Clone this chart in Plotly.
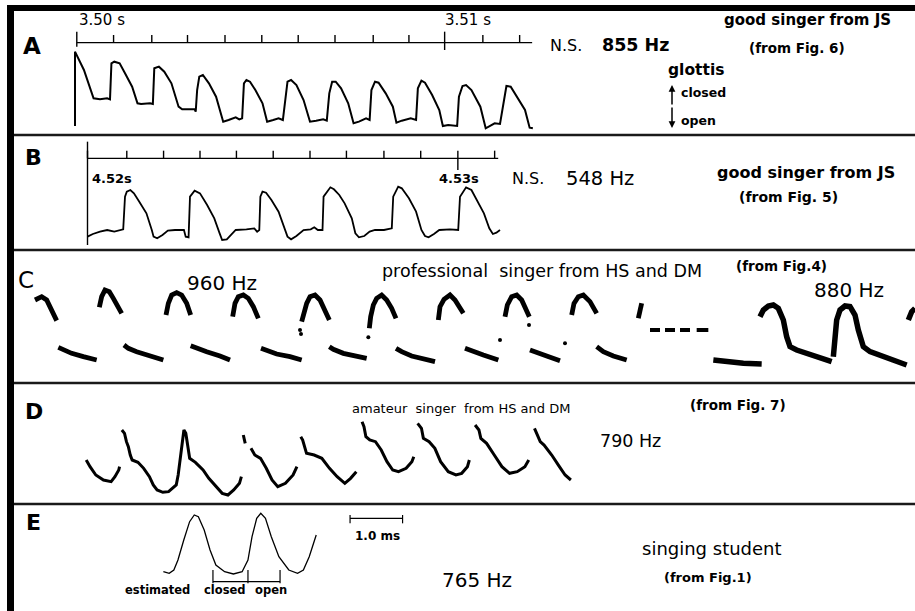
import plotly.graph_objects as go

W, H = 915, 611

# Panel A
A_wave_x = [210, 210, 235, 262, 280, 300, 308, 312, 320, 335, 350, 370, 385, 395, 420, 428, 432, 445, 460, 480,
            500, 510, 545, 548, 552, 558, 568, 585, 605, 625, 640, 660, 670, 678, 683, 690, 700, 715, 735, 748,
            765, 780, 792, 800, 805, 815, 830, 850, 868, 885, 905, 915, 922, 930, 940, 955, 975, 990, 1005, 1025,
            1035, 1040, 1050, 1060, 1080, 1100, 1110, 1125, 1150, 1165, 1170, 1180, 1190, 1210, 1230, 1240, 1255,
            1280, 1285, 1295, 1305, 1320, 1345, 1360, 1375, 1385, 1400, 1410, 1418, 1430, 1445, 1470, 1483, 1492]
A_wave_y = [378, 155, 210, 295, 298, 295, 298, 190, 185, 190, 220, 260, 310, 312, 310, 312, 205, 200, 215, 250,
            320, 328, 328, 335, 270, 230, 225, 250, 290, 365, 360, 352, 358, 355, 250, 240, 245, 270, 310, 365,
            360, 355, 360, 280, 245, 240, 255, 300, 365, 362, 358, 362, 280, 245, 245, 265, 310, 370, 365, 355,
            360, 270, 245, 248, 280, 320, 368, 362, 355, 360, 265, 242, 248, 285, 330, 378, 375,
            378, 290, 258, 255, 270, 320, 385, 375, 370, 372, 310, 258, 260, 285, 330, 383, 385]
A_axis_x = [215, 1490]
A_axis_y = 128
A_minor_x = [318, 425, 525, 630, 733, 835, 938, 1045, 1145, 1352, 1455]
A_major_x = [215, 1245]
A_major_labels = ["3.50 s", "3.51 s"]

# Panel B
B_wave = [(245, 320), (260, 312), (280, 305), (300, 300), (320, 305), (335, 300), (345, 298), (350, 200), (355, 185),
          (365, 180), (375, 190), (390, 215), (410, 250), (425, 300), (430, 320), (440, 325), (455, 315), (470, 302),
          (490, 300), (515, 300), (520, 320), (528, 322), (532, 200), (545, 182), (560, 190), (580, 225), (600, 265),
          (615, 310), (622, 330), (635, 328), (650, 310), (660, 300), (690, 298), (712, 295), (720, 305), (726, 300),
          (729, 200), (735, 185), (745, 188), (760, 210), (780, 245), (795, 290), (805, 320), (815, 328), (830, 318),
          (850, 300), (870, 298), (880, 292), (890, 300), (903, 300), (906, 200), (925, 172), (935, 178), (950, 195),
          (965, 220), (985, 265), (995, 310), (1005, 322), (1020, 318), (1035, 305), (1050, 300), (1075, 300),
          (1090, 298), (1097, 295), (1101, 200), (1115, 170), (1125, 175), (1145, 205), (1165, 245), (1180, 300),
          (1190, 318), (1200, 322), (1215, 312), (1230, 300), (1260, 298), (1283, 300), (1288, 200), (1305, 172),
          (1320, 180), (1335, 210), (1355, 250), (1370, 295), (1380, 312), (1390, 308), (1400, 300)]
B_axis_x = [245, 1395]
B_axis_y = 85
B_minor_x = [355, 458, 560, 662, 765, 868, 970, 1075, 1178, 1385]
B_major_x = [245, 1282]
B_major_labels = ["4.52s", "4.53s"]

# Panel C  (strokes separated by None)
C_x = [105, 125, 140, 150, 158, 165, 170, None, 175, 190, 215, 250, 290, None,
       298, 305, 315, 328, 340, 355, 365, None, 372, 385, 410, 440, 490, None,
       498, 505, 515, 530, 545, 560, 572, None, 572, 590, 620, 660, 690, None,
       698, 705, 715, 730, 745, 760, 775, None, 783, 800, 830, 870, 905, None,
       905, 912, 920, 930, 945, 960, 975, 988, None, 988, 1000, 1030, 1065, 1100, None,
       1108, 1112, 1120, 1130, 1145, 1160, 1175, 1188, None, 1188, 1205, 1235, 1270, 1305, None,
       1315, 1320, 1332, 1350, 1365, 1380, 1390, None, 1395, 1420, 1450, 1495, None,
       1515, 1522, 1535, 1550, 1565, 1580, 1588, None, 1590, 1610, 1640, 1680, None,
       1715, 1722, 1735, 1750, 1770, 1790, None, 1790, 1810, 1840, 1880, None,
       1925, 1915]
C_y = [150, 140, 150, 170, 190, 205, 212, None, 292, 300, 310, 320, 330, None,
       172, 140, 120, 125, 145, 170, 190, None, 285, 295, 305, 315, 330, None,
       195, 160, 135, 128, 135, 160, 195, None, 287, 295, 305, 318, 330, None,
       200, 160, 140, 135, 145, 170, 205, None, 295, 302, 312, 320, 330, None,
       215, 185, 160, 140, 135, 150, 180, 210, None, 290, 298, 310, 318, 325, None,
       235, 200, 165, 145, 135, 150, 175, 205, None, 295, 305, 318, 328, 335, None,
       210, 170, 148, 135, 150, 175, 190, None, 295, 305, 315, 330, None,
       200, 165, 140, 135, 150, 185, 200, None, 300, 308, 318, 332, None,
       195, 160, 140, 135, 155, 190, None, 290, 305, 318, 330, None,
       160, 205]
C_dots_x = [900, 903, 1500, 1587, 1695, 1105]
C_dots_y = [240, 252, 270, 225, 280, 262]
C_dash_x = [1950, 1980, None, 1995, 2025, None, 2040, 2070, None, 2090, 2125]
C_dash_y = [240, 240, None, 240, 240, None, 240, 240, None, 240, 240]
C2_x = [2140, 2180, 2230, 2285, None,
        2280, 2290, 2305, 2320, 2335, 2350, 2360, 2370, 2390, 2430, 2470, 2495, None,
        2500, 2505, 2510, 2520, 2535, 2550, 2565, 2575, 2590, 2610, 2650, 2690, 2720, None,
        2725, 2735, 2745]
C2_y = [330, 335, 340, 342, None,
        200, 180, 168, 165, 175, 210, 260, 290, 300, 312, 325, 335, None,
        320, 280, 210, 180, 168, 170, 195, 240, 290, 305, 318, 335, 345, None,
        210, 185, 175]

# Panel D
D_x = [225, 235, 250, 270, 290, 300, 310, 312, None,
       318, 325, 330, 335, 340, 345, 360, 375, 390, 400, 410, 425, 440, 450, 460, 465, 470, 475, 480,
       485, 490, 495, 510, 530, 545, 560, 580, 595, 610, 625, 630, None,
       635, 640, None,
       655, 665, 680, 695, 710, 725, 745, 765, 775, None,
       785, 790, 800, 820, 840, 860, 880, 900, 915, 930, None,
       945, 950, 955, 965, 980, 995, 1010, 1025, 1040, 1060, 1075, 1080, None,
       1090, 1100, 1105, 1120, 1135, 1150, 1170, 1190, 1205, 1220, 1225, None,
       1240, 1250, 1255, 1270, 1290, 1310, 1330, 1350, 1370, 1380, None,
       1395, 1405, 1410, 1420, 1440, 1460, 1475, 1490]
D_y = [255, 275, 300, 315, 320, 305, 285, 275, None,
       165, 175, 200, 215, 240, 255, 262, 280, 305, 330, 345, 352, 350, 340, 330, 300, 250, 200, 165,
       175, 215, 250, 262, 285, 310, 330, 355, 360, 345, 325, 305, None,
       180, 205, None,
       220, 240, 250, 280, 315, 335, 325, 300, 275, None,
       185, 195, 235, 240, 250, 280, 305, 325, 310, 290, None,
       140, 155, 185, 195, 200, 225, 260, 285, 290, 280, 260, 245, None,
       145, 160, 190, 200, 220, 260, 290, 300, 295, 275, 255, None,
       150, 165, 190, 205, 240, 275, 295, 290, 275, 255, None,
       160, 190, 200, 210, 240, 275, 300, 315]

# Panel E
E_x = [280, 290, 298, 305, 315, 325, 333, 340, 350, 360, 370, 385, 400, 415, 425, 432, 440, 447, 455, 465, 478,
       495, 510, 520, 530, 538, 542]
E_y = [245, 250, 240, 210, 150, 95, 75, 80, 120, 180, 225, 245, 252, 245, 210, 140, 85, 70, 85, 140, 200,
       240, 250, 240, 200, 160, 135]
E_phase_x = [365, 425, 480]
E_phase_y = 275
E_phase_labels = ["estimated", "closed", "open"]
E_bar_x = [600, 690]
E_bar_y = 85

# ---------------- figure ----------------
fig = go.Figure()

panels = {  # name: (ox, oy, sx, sy) digitizer grid -> pixel
    "A": (0, 0, 2.8, 3.0),
    "B": (0, 130, 2.8, 3.0),
    "C": (0, 250, 3.0, 3.0),
    "D": (0, 375, 2.61, 3.0),
    "E": (0, 490, 1.714, 3.0),
}
axis_id = {}
layout_axes = {}
for i, (name, (ox, oy, sx, sy)) in enumerate(panels.items(), start=2):
    axis_id[name] = (f"x{i}", f"y{i}")
    layout_axes[f"xaxis{i}"] = dict(domain=[0, 1], range=[-ox * sx, (W - ox) * sx], overlaying="x",
                                    anchor=f"y{i}", visible=False, fixedrange=True)
    layout_axes[f"yaxis{i}"] = dict(domain=[0, 1], range=[(H - oy) * sy, -oy * sy], overlaying="y",
                                    anchor=f"x{i}", visible=False, fixedrange=True)


def line(panel, xs, ys, width, color="black", mode="lines"):
    xa, ya = axis_id[panel]
    fig.add_trace(go.Scatter(x=xs, y=ys, mode=mode, xaxis=xa, yaxis=ya, hoverinfo="skip",
                             line=dict(color=color, width=width, shape="linear"),
                             marker=dict(color=color, size=width + 1), showlegend=False))


def ruler(panel, axis_x, axis_y, minor_x, minor_top, major_x, major_top, major_bot, vline=None):
    xs, ys = [axis_x[0], axis_x[1], None], [axis_y, axis_y, None]
    for t in minor_x:
        xs += [t, t, None]
        ys += [minor_top, axis_y, None]
    for t, b in zip(major_x, major_bot):
        xs += [t, t, None]
        ys += [major_top, b, None]
    if vline:
        xs += [axis_x[0], axis_x[0], None]
        ys += [vline[0], vline[1], None]
    line(panel, xs, ys, 1.4)


# A
line("A", A_wave_x, A_wave_y, 2.0)
ruler("A", A_axis_x, A_axis_y, A_minor_x, 105, A_major_x, 95, [140, 150])
# B
line("B", [p[0] for p in B_wave], [p[1] for p in B_wave], 1.8)
ruler("B", B_axis_x, B_axis_y, B_minor_x, 62, B_major_x, 62, [85, 120], vline=(35, 345))
# C
line("C", C_x, C_y, 4.8)
line("C", C_dots_x, C_dots_y, 3, mode="markers")
line("C", C_dash_x, C_dash_y, 4.0)
line("C", C2_x, C2_y, 5.5)
# D
line("D", D_x, D_y, 3.0)
# E
line("E", E_x, E_y, 1.3)
ex, ey = [E_phase_x[0], E_phase_x[-1], None], [E_phase_y, E_phase_y, None]
for t in E_phase_x:
    ex += [t, t, None]
    ey += [240, 280, None]
line("E", ex, ey, 1.2)
bx, by = [E_bar_x[0], E_bar_x[1], None], [E_bar_y, E_bar_y, None]
for t in E_bar_x:
    bx += [t, t, None]
    by += [75, 100, None]
line("E", bx, by, 1.2)

# ---------------- frame (pixel coordinates) ----------------
shapes = [
    dict(type="rect", x0=7, x1=14, y0=5, y1=H + 5, fillcolor="black", line_width=0),
    dict(type="rect", x0=7, x1=W + 5, y0=5, y1=11, fillcolor="black", line_width=0),
]
for yy in [135, 250, 383, 504]:
    shapes.append(dict(type="line", x0=14, x1=W + 5, y0=yy, y1=yy, line=dict(color="#1a1a1a", width=2.5)))

SANS = "DejaVu Sans, Liberation Sans, Arial, sans-serif"


def px_x(panel, v):
    ox, oy, sx, sy = panels[panel]
    return ox + v / sx


texts = [
    # (text, x, y, size, bold, anchor)
    ("A", 21, 46, 23, True, "left"),
    ("B", 23, 157, 22, True, "left"),
    ("C", 16, 280, 23, False, "left"),
    ("D", 23, 411, 22, True, "left"),
    ("E", 24, 522, 22, True, "left"),
    ("N.S.", 548, 45, 16, False, "left"),
    ("855 Hz", 600, 45, 17.5, True, "left"),
    ("good singer from JS", 722, 20, 15, True, "left"),
    ("(from Fig. 6)", 747, 48, 13.5, True, "left"),
    ("glottis", 666, 70, 15.5, True, "left"),
    ("closed", 679, 92, 12.5, True, "left"),
    ("open", 679, 120, 12.5, True, "left"),
    ("N.S.", 510, 178, 16, False, "left"),
    ("548 Hz", 564, 178, 19.5, False, "left"),
    ("good singer from JS", 715, 172, 16, True, "left"),
    ("(from Fig. 5)", 737, 197, 14, True, "left"),
    ("960 Hz", 185, 283, 20, False, "left"),
    ("professional  singer from HS and DM", 380, 271, 17.5, False, "left"),
    ("(from Fig.4)", 734, 266, 13.5, True, "left"),
    ("880 Hz", 812, 290, 20, False, "left"),
    ("amateur  singer  from HS and DM", 350, 408, 13, False, "left"),
    ("(from Fig. 7)", 688, 405, 13.5, True, "left"),
    ("790 Hz", 598, 441, 17.5, False, "left"),
    ("1.0 ms", 377, 536, 12, True, "center"),
    ("765 Hz", 440, 580, 20, False, "left"),
    ("singing student", 640, 548, 18, False, "left"),
    ("(from Fig.1)", 662, 577, 13, True, "left"),
]
texts.append((A_major_labels[0], px_x("A", A_major_x[0]), 20, 15, False, "left"))
texts.append((A_major_labels[1], px_x("A", A_major_x[1]) - 2, 20, 15, False, "left"))
texts.append((B_major_labels[0], px_x("B", B_major_x[0]) + 2, 178, 13, True, "left"))
texts.append((B_major_labels[1], px_x("B", B_major_x[1]) - 21, 178, 13, True, "left"))
for lab, xx in zip(E_phase_labels, [123, 202, 253]):
    texts.append((lab, xx, 590, 11.5, True, "left"))

annotations = []
for txt, x, y, size, bold, anc in texts:
    annotations.append(dict(text=f"<b>{txt}</b>" if bold else txt, x=x, y=y, xref="x", yref="y",
                            xanchor=anc, yanchor="middle", showarrow=False,
                            font=dict(size=size, family=SANS, color="black")))
# glottis arrows
for head in (85, 128):
    annotations.append(dict(x=672, y=head, ax=672, ay=106, xref="x", yref="y", axref="x", ayref="y",
                            text="", showarrow=True, arrowhead=2, arrowsize=0.9, arrowwidth=1.5,
                            arrowcolor="black"))

fig.update_layout(
    width=W, height=H, autosize=False,
    margin=dict(l=0, r=0, t=0, b=0, pad=0),
    paper_bgcolor="white", plot_bgcolor="white",
    xaxis=dict(range=[0, W], visible=False, fixedrange=True, domain=[0, 1]),
    yaxis=dict(range=[H, 0], visible=False, fixedrange=True, domain=[0, 1]),
    shapes=shapes, annotations=annotations, showlegend=False,
    **layout_axes,
)

fig.write_html("out.html", config={"displayModeBar": False},
               post_script="document.body.style.margin='0';document.body.style.overflow='hidden';")
